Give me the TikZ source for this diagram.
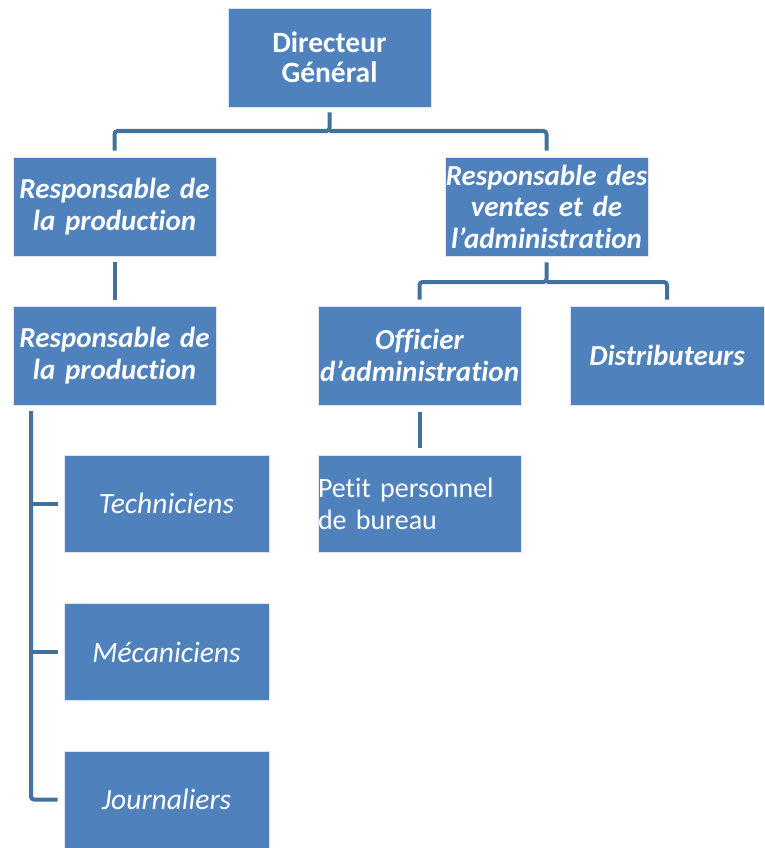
\documentclass[tikz,border=0pt]{standalone}
\usepackage{fontspec}
\setmainfont{Carlito}[RawFeature=-liga]
\definecolor{boxblue}{HTML}{4F81BD}
\definecolor{lineblue}{HTML}{41719C}
\begin{document}
\begin{tikzpicture}[x=1pt,y=-1pt,
  box/.style={draw=white!80!boxblue, line width=0.8pt, fill=boxblue, text=white, inner sep=0pt,
     minimum width=203pt, minimum height=99pt, text width=203pt, align=center,
     font=\fontsize{29}{31.5}\selectfont},
  bi/.style={box, font=\fontsize{29}{31.5}\selectfont\bfseries\itshape},
  it/.style={box, minimum width=205pt, text width=205pt, font=\fontsize{29.5}{31}\selectfont\itshape},
  conn/.style={draw=lineblue, line width=4pt, rounded corners=3pt}]
\useasboundingbox (0,0) rectangle (764,848);
\node[box, font=\fontsize{29.5}{30}\selectfont\bfseries] (dg) at (329.5,57.5) {Directeur\\Général};
\node[bi] (p1) at (114.5,206.5) {Responsable de\\la production};
\node[bi] (v) at (546.5,206.5) {Responsable des\\ventes et de\\l’administration};
\node[bi] (p2) at (114.5,355.5) {Responsable de\\la production};
\node[bi] (o) at (419.5,355.5) {Officier\\d’administration};
\node[bi, minimum width=194pt, text width=194pt] (d) at (667,355.5) {Distributeurs};
\node[box, minimum height=97pt, align=left, font=\fontsize{28}{32}\selectfont] (pp) at (419.5,503.5) {Petit personnel\\de bureau};
\node[it, minimum height=97pt] (t) at (166.5,503.5) {Techniciens};
\node[it, minimum height=97pt] (m) at (166.5,652) {Mécaniciens};
\node[it, minimum height=97pt] (j) at (166.5,799.5) {Journaliers};
% connectors
\coordinate (dgb) at ([yshift=-5pt]dg.south);
\draw[conn] (dgb) -- (329.5,131) -| ([yshift=6pt]p1.north);
\draw[conn] (329.5,131) -| ([yshift=6pt]v.north);
\draw[conn] ([yshift=-6pt]p1.south) -- ([yshift=6pt]p2.north);
\coordinate (vb) at ([yshift=-6pt]v.south);
\draw[conn] (vb) -- (546.5,282) -| ([yshift=6pt]o.north);
\draw[conn] (546.5,282) -| ([yshift=6pt]d.north);
\draw[conn] ([yshift=-7pt]o.south) -- ([yshift=7pt]pp.north);
\coordinate (br) at (31,411);
\draw[conn] (br) |- ([xshift=-6pt]j.west);
\draw[conn] (31,503.5) -- ([xshift=-6pt]t.west);
\draw[conn] (31,652) -- ([xshift=-6pt]m.west);
\end{tikzpicture}
\end{document}
